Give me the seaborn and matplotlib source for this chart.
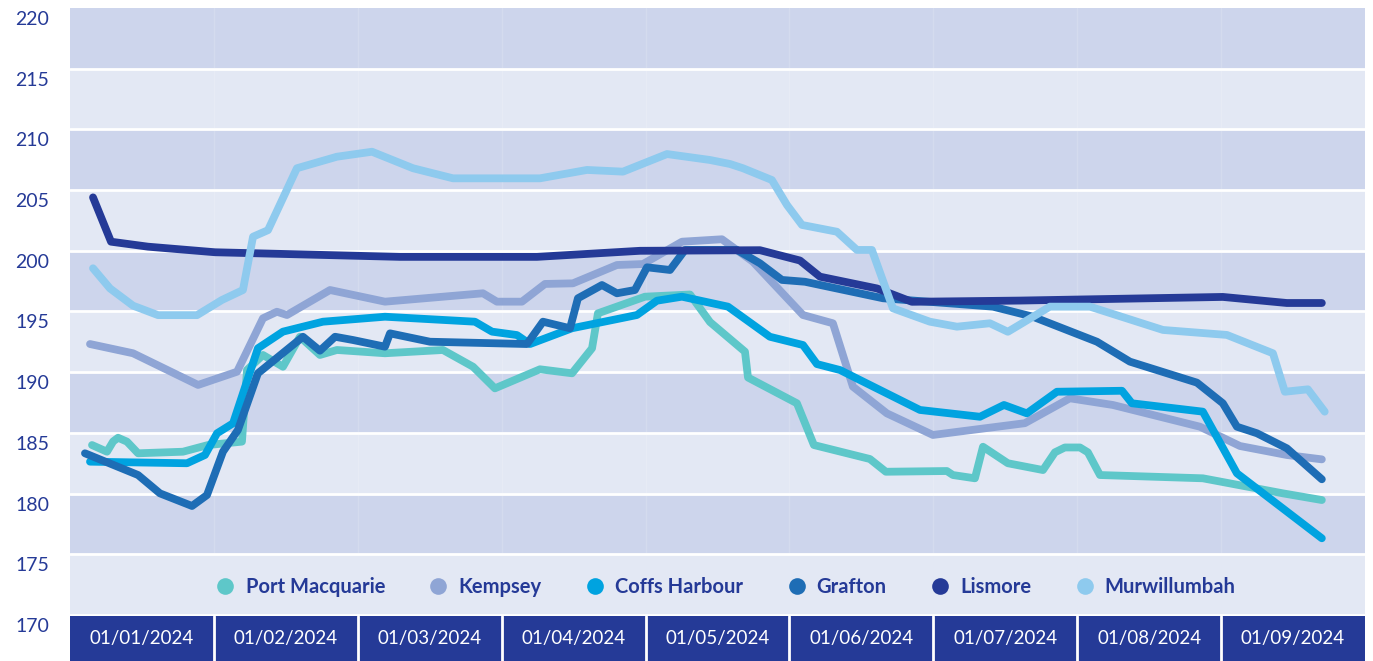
import matplotlib
matplotlib.use("Agg")
import matplotlib.pyplot as plt
import seaborn as sns
import pandas as pd
from matplotlib.lines import Line2D
from matplotlib.transforms import ScaledTranslation

# ---------------- data (t = months since 01/01/2024) ----------------
towns = ["Port Macquarie", "Kempsey", "Coffs Harbour", "Grafton", "Lismore", "Murwillumbah"]
colors = ["#5ec7c9", "#8fa5d5", "#00a3e0", "#1e6db5", "#253a97", "#8ecaee"]
month_labels = ["01/01/2024", "01/02/2024", "01/03/2024", "01/04/2024", "01/05/2024",
                "01/06/2024", "01/07/2024", "01/08/2024", "01/09/2024"]
y_ticks = [170, 175, 180, 185, 190, 195, 200, 205, 210, 215, 220]

port_macquarie_t = [0.153, 0.257, 0.30, 0.334, 0.396, 0.473, 0.785, 0.959, 1.195, 1.230, 1.341, 1.480,
                    1.598, 1.737, 1.855, 2.189, 2.592, 2.801, 2.953, 3.266, 3.489, 3.628, 3.669, 3.996,
                    4.309, 4.448, 4.691, 4.712, 5.052, 5.170, 5.559, 5.670, 6.094, 6.136, 6.289, 6.345,
                    6.518, 6.762, 6.845, 6.914, 7.019, 7.074, 7.158, 7.873, 8.430, 8.700]
port_macquarie_v = [184.0, 183.45, 184.3, 184.6, 184.28, 183.32, 183.45, 184.0, 184.28, 190.18, 191.42, 190.45,
                    192.92, 191.42, 191.83, 191.56, 191.83, 190.45, 188.67, 190.24, 189.91, 191.97, 194.85, 196.22,
                    196.4, 194.13, 191.69, 189.56, 187.44, 184.0, 182.85, 181.8, 181.86, 181.53, 181.26, 183.86,
                    182.5, 181.94, 183.4, 183.8, 183.8, 183.4, 181.53, 181.26, 180.02, 179.47]

kempsey_t = [0.139, 0.438, 0.890, 1.161, 1.341, 1.438, 1.508, 1.807, 2.189, 2.870, 2.967, 3.141, 3.301,
             3.495, 3.801, 3.982, 4.253, 4.531, 4.746, 5.094, 5.302, 5.441, 5.677, 5.997, 6.636, 6.949,
             7.248, 7.853, 8.131, 8.457, 8.700]
kempsey_v = [192.32, 191.56, 188.95, 190.04, 194.44, 194.98, 194.71, 196.77, 195.81, 196.5, 195.81, 195.81, 197.27,
             197.32, 198.83, 198.91, 200.75, 200.95, 199.1, 194.71, 194.03, 188.81, 186.61, 184.83, 185.8, 187.85,
             187.3, 185.51, 183.92, 183.18, 182.82]

coffs_harbour_t = [0.139, 0.813, 0.938, 1.022, 1.133, 1.306, 1.480, 1.758, 2.189, 2.814, 2.933, 3.106, 3.197,
                   3.489, 3.940, 4.079, 4.253, 4.573, 4.864, 5.094, 5.191, 5.351, 5.907, 6.324, 6.491, 6.650,
                   6.859, 7.311, 7.380, 7.873, 8.110, 8.700]
coffs_harbour_v = [182.63, 182.5, 183.18, 184.97, 185.79, 191.97, 193.34, 194.16, 194.57, 194.16, 193.34, 193.06, 192.32,
                   193.62, 194.71, 195.89, 196.22, 195.4, 192.92, 192.24, 190.67, 190.18, 186.89, 186.33, 187.3, 186.61,
                   188.39, 188.47, 187.44, 186.75, 181.67, 176.32]

grafton_t = [0.104, 0.473, 0.625, 0.848, 0.952, 1.063, 1.167, 1.306, 1.619, 1.737, 1.842, 1.967, 2.189, 2.224,
             2.502, 3.176, 3.287, 3.475, 3.530, 3.697, 3.801, 3.926, 4.010, 4.170, 4.274, 4.635, 4.795, 4.948,
             5.108, 5.650, 6.414, 6.692, 7.137, 7.366, 7.832, 8.012, 8.110, 8.249, 8.457, 8.700]
grafton_v = [183.32, 181.53, 180.02, 178.98, 179.88, 183.45, 185.24, 189.91, 192.92, 191.77, 192.92, 192.65, 192.1, 193.2,
             192.51, 192.32, 194.16, 193.62, 196.09, 197.18, 196.5, 196.77, 198.64, 198.42, 200.07, 200.07, 198.97, 197.6,
             197.45, 196.09, 195.4, 194.57, 192.51, 190.87, 189.14, 187.44, 185.51, 184.97, 183.73, 181.18]

lismore_t = [0.160, 0.285, 0.542, 1.008, 2.293, 2.940, 3.245, 3.961, 4.795, 5.073, 5.212, 5.608, 5.851,
             6.602, 8.012, 8.457, 8.700]
lismore_v = [204.4, 200.75, 200.34, 199.88, 199.5, 199.5, 199.5, 200.0, 200.05, 199.2, 197.87, 196.9, 195.8,
             195.9, 196.2, 195.7, 195.7]

murwillumbah_t = [0.160, 0.278, 0.438, 0.612, 0.883, 1.056, 1.202, 1.272, 1.376, 1.577, 1.855, 2.099, 2.384,
                  2.662, 3.266, 3.593, 3.843, 4.149, 4.448, 4.587, 4.677, 4.878, 4.983, 5.087, 5.330, 5.469,
                  5.573, 5.719, 5.976, 6.164, 6.393, 6.518, 6.810, 7.088, 7.596, 8.040, 8.360, 8.443, 8.603, 8.720]
murwillumbah_v = [198.56, 196.9, 195.48, 194.7, 194.7, 195.95, 196.77, 201.16, 201.7, 206.8, 207.75, 208.16, 206.8,
                  205.97, 205.97, 206.66, 206.52, 207.97, 207.48, 207.15, 206.8, 205.83, 203.77, 202.13, 201.57, 200.07,
                  200.07, 195.26, 194.16, 193.75, 194.03, 193.33, 195.4, 195.4, 193.48, 193.07, 191.56, 188.39, 188.59, 186.75]

series_t = [port_macquarie_t, kempsey_t, coffs_harbour_t, grafton_t, lismore_t, murwillumbah_t]
series_v = [port_macquarie_v, kempsey_v, coffs_harbour_v, grafton_v, lismore_v, murwillumbah_v]

frames = [pd.DataFrame({"t": t, "price": v, "town": name}) for name, t, v in zip(towns, series_t, series_v)]
df = pd.concat(frames, ignore_index=True)

# ---------------- style ----------------
sns.set_theme(style="white")
plt.rcParams["font.family"] = ["Lato", "DejaVu Sans"]

NAVY = "#253a97"
BAND_DARK = "#cdd5ec"
BAND_LIGHT = "#e3e8f4"

W, H = 1373, 661
fig = plt.figure(figsize=(W / 100, H / 100), dpi=100)
ax = fig.add_axes([70 / W, 46 / H, 1295 / W, 607 / H])
ax.set_xlim(0, 9)
ax.set_ylim(170, 220)

for b in range(170, 220, 5):
    ax.axhspan(b, b + 5, color=BAND_DARK if ((b - 170) // 5) % 2 == 1 else BAND_LIGHT, lw=0, zorder=0)
for b in range(170, 220, 5):
    ax.axhline(b, color="white", lw=2, zorder=1)
for m in range(1, 9):
    ax.axvline(m, color="white", lw=1, alpha=0.15, zorder=1, ymin=0.1)

sns.lineplot(data=df, x="t", y="price", hue="town", hue_order=towns, palette=colors,
             estimator=None, linewidth=5.6, legend=False, ax=ax, zorder=3)
for ln in ax.lines:
    if ln.get_linewidth() > 5:
        ln.set_solid_capstyle("round")
        ln.set_solid_joinstyle("round")

for s in ax.spines.values():
    s.set_visible(False)
ax.set_xlabel("")
ax.set_ylabel("")
ax.set_xticks([])
ax.set_yticks(y_ticks)
ax.set_yticklabels([str(v) for v in y_ticks], fontsize=14, color=NAVY)
ax.tick_params(axis="y", length=0, pad=15)
off = ScaledTranslation(0, -10 / 100, fig.dpi_scale_trans)
for lab in ax.get_yticklabels():
    lab.set_transform(lab.get_transform() + off)

handles = [Line2D([], [], marker="o", linestyle="", markersize=12, color=c, markeredgewidth=0) for c in colors]
leg = ax.legend(handles, towns, loc="center", bbox_to_anchor=(0.507, 0.046), ncol=6, frameon=False,
                handlelength=0.8, handletextpad=0.6, columnspacing=2.25,
                prop={"family": "Lato", "weight": "bold", "size": 14.5})
for txt in leg.get_texts():
    txt.set_color(NAVY)

# x label band
bx = fig.add_axes([70 / W, 0, 1295 / W, 45 / H])
bx.set_xlim(0, 9)
bx.set_ylim(0, 1)
bx.set_facecolor(NAVY)
for s in bx.spines.values():
    s.set_visible(False)
bx.set_xticks([])
bx.set_yticks([])
for m in range(1, 9):
    bx.axvline(m, color="white", lw=2)
for i, lab in enumerate(month_labels):
    bx.text(i + 0.5, 0.5, lab, ha="center", va="center", color="white", fontsize=13.5)

fig.savefig("out.png", dpi=100, facecolor="white")
